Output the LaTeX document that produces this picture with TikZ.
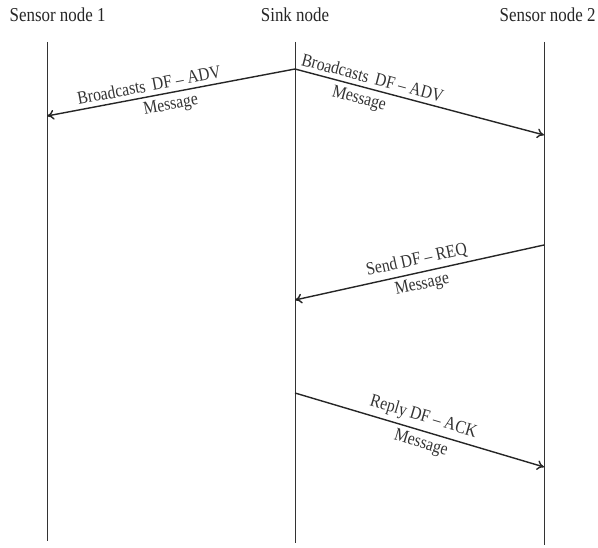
\documentclass[tikz,border=0pt]{standalone}
\usepackage{fontspec}
\setmainfont{Liberation Serif}
\newfontfamily\narrowfont{Liberation Serif}[FakeStretch=0.86, Ligatures=TeX]
\usetikzlibrary{arrows.meta}

\tikzset{
  title/.style={font=\narrowfont\fontsize{14}{16}\selectfont, text=black!85, inner sep=1pt},
  lifeline/.style={black!80, line width=0.7pt},
  msg/.style={black!85, line width=1pt, -{To[length=5pt,width=7pt]}},
  lbl/.style={font=\narrowfont\fontsize{13}{15}\selectfont, text=black!80, sloped, inner sep=3pt}
}

\begin{document}
\begin{tikzpicture}
          \useasboundingbox (0,0) rectangle (14.95,13.675); % Fixes the margins

          \node [title, anchor=west] (s1) at (0.2,13.3) {Sensor node 1}; % Draws a title
          \node [title] (sink) at (7.375,13.3) {Sink node}; % Draws a title
          \node [title, anchor=east] (s2) at (14.93,13.3) {Sensor node 2}; % Draws a title

          \coordinate (s1a) at (1.175,12.625);
          \coordinate (s1b) at (1.175,0.15);
          \coordinate (sinka) at (7.375,12.625);
          \coordinate (sinkb) at (7.375,0.1);
          \coordinate (s2a) at (13.6,12.625);
          \coordinate (s2b) at (13.6,0.05);

          \draw [lifeline] (s1a) to (s1b); % Draws a lifeline
          \draw [lifeline] (sinka) to (sinkb); % Draws a lifeline
          \draw [lifeline] (s2a) to (s2b); % Draws a lifeline

          \coordinate (adv) at (7.375,11.95);
          \coordinate (adv1) at (1.175,10.775);
          \coordinate (adv2) at (13.6,10.3);
          \coordinate (req) at (13.6,7.55);
          \coordinate (reqend) at (7.375,6.175);
          \coordinate (ack) at (7.375,3.85);
          \coordinate (ackend) at (13.6,2.0);

          \draw [msg] (adv) to node [lbl, pos=0.58, above] {Broadcasts\, DF -- ADV} node [lbl, pos=0.51, below] {Message} (adv1);
          \draw [msg] (adv) to node [lbl, pos=0.3, above] {Broadcasts\, DF -- ADV} node [lbl, pos=0.27, below] {Message} (adv2);

          \draw [msg] (req) to node [lbl, midway, above] {Send DF -- REQ} node [lbl, midway, below] {Message} (reqend);
          \draw [msg] (ack) to node [lbl, midway, above] {Reply DF -- ACK} node [lbl, pos=0.52, below] {Message} (ackend);
        \end{tikzpicture}
\end{document}
